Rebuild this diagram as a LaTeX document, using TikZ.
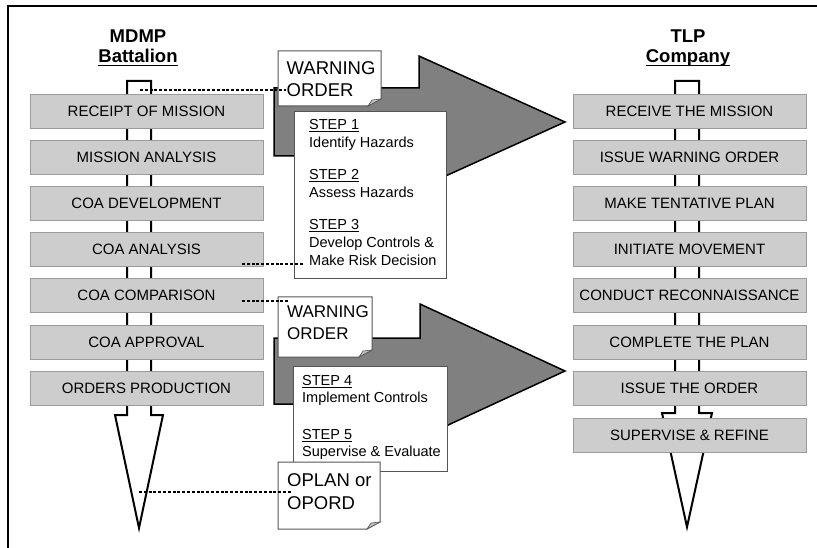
\documentclass[tikz,border=0pt]{standalone}
\usepackage{fontspec}
\setmainfont{Liberation Sans}
\usetikzlibrary{calc}
\definecolor{boxgray}{RGB}{205,205,205}
\definecolor{boxline}{RGB}{155,155,155}
\definecolor{arrowgray}{RGB}{128,128,128}
\definecolor{noteline}{RGB}{85,85,85}
\newcommand{\dogear}[2]{%
  \draw[notebg] (#1) -- (#1 -| #2) -- ([yshift=7pt]#2) -- ([xshift=-13pt]#2) -- (#1 |- #2) -- cycle;
  \draw[fold] ([yshift=7pt]#2) -- ([xshift=-13pt]#2) -- ([xshift=-9pt,yshift=6pt]#2) -- cycle;
}
\begin{document}
\begin{tikzpicture}[x=1pt,y=-1pt,
  procbox/.style={draw=boxline, fill=boxgray, line width=0.8pt, minimum width=233pt, minimum height=34pt, inner sep=0pt, font=\fontsize{15}{18}\selectfont},
  shaft/.style={draw=black, fill=white, line width=2pt, line join=miter},
  bigarrow/.style={draw=black, fill=arrowgray, line width=1.5pt, line join=miter},
  stepbox/.style={draw=noteline, fill=white, line width=1pt},
  notebg/.style={draw=noteline, fill=white, line width=1pt, line join=miter},
  fold/.style={draw=noteline, fill=black!25, line width=0.6pt},
  dashline/.style={draw=black, line width=1.3pt, dash pattern=on 3pt off 1.8pt},
  headtext/.style={font=\bfseries\fontsize{18.5}{22}\selectfont, inner sep=0pt, anchor=base},
  uline/.style={line width=1.2pt},
  notetext/.style={align=left, inner sep=0pt, anchor=north west},
  steptext/.style={align=left, inner sep=0pt, anchor=north west},
]
\useasboundingbox (0,0) rectangle (817,548);
% frame
\draw[line width=2pt] (8,548) -- (8,6) -- (817,6);

% headers
\node[headtext] (hm) at (138,43) {MDMP};
\node[headtext] (hb) at (138,63) {Battalion};
\draw[uline] ([yshift=-2.5pt]hb.base west) -- ([yshift=-2.5pt]hb.base east);
\node[headtext] (ht) at (688,43) {TLP};
\node[headtext] (hc) at (688,63) {Company};
\draw[uline] ([yshift=-2.5pt]hc.base west) -- ([yshift=-2.5pt]hc.base east);

% process arrows (shafts)
\draw[shaft] (127,81) -- (151,81) -- (151,415) -- (163,415) -- (139,528) -- (115,415) -- (127,415) -- cycle;
\draw[shaft] (675,81) -- (699,81) -- (699,413) -- (712,413) -- (687,527) -- (662,413) -- (675,413) -- cycle;

% MDMP boxes
\node[procbox] (L1) at (146.5,111) {RECEIPT OF MISSION};
\node[procbox] (L2) at (146.5,157.2) {MISSION ANALYSIS};
\node[procbox] (L3) at (146.5,203.4) {COA DEVELOPMENT};
\node[procbox] (L4) at (146.5,249.6) {COA ANALYSIS};
\node[procbox] (L5) at (146.5,295.8) {COA COMPARISON};
\node[procbox] (L6) at (146.5,342) {COA APPROVAL};
\node[procbox] (L7) at (146.5,388.2) {ORDERS PRODUCTION};

% TLP boxes
\node[procbox] (R1) at (689.5,111) {RECEIVE THE MISSION};
\node[procbox] (R2) at (689.5,157.2) {ISSUE WARNING ORDER};
\node[procbox] (R3) at (689.5,203.4) {MAKE TENTATIVE PLAN};
\node[procbox] (R4) at (689.5,249.6) {INITIATE MOVEMENT};
\node[procbox] (R5) at (689.5,295.8) {CONDUCT RECONNAISSANCE};
\node[procbox] (R6) at (689.5,342) {COMPLETE THE PLAN};
\node[procbox] (R7) at (689.5,388.2) {ISSUE THE ORDER};
\node[procbox] (R8) at (689.5,435.5) {SUPERVISE \& REFINE};

% big gray arrows
\draw[bigarrow] (274,88) -- (419,88) -- (419,56) -- (565,122) -- (419,188) -- (419,156) -- (274,156) -- cycle;
\draw[bigarrow] (274,338) -- (420,338) -- (420,304) -- (565,371) -- (420,438) -- (420,404) -- (274,404) -- cycle;

% step boxes
\draw[stepbox] (294,112) rectangle (446,279);
\node[steptext, font=\fontsize{14.5}{18}\selectfont] (st1) at (309,119.6)
  {\underline{STEP 1}\\Identify Hazards\\[14pt]\underline{STEP 2}\\Assess Hazards\\[14pt]\underline{STEP 3}\\Develop Controls \&\\Make Risk Decision};
\draw[stepbox] (293,366) rectangle (447,471);
\node[steptext, font=\fontsize{14.5}{17}\selectfont] (st2) at (302,375.6)
  {\underline{STEP 4}\\Implement Controls\\[20pt]\underline{STEP 5}\\Supervise \& Evaluate};

% notes
\coordinate (n1a) at (278,51); \coordinate (n1b) at (381,106);
\dogear{n1a}{n1b}
\node[notetext, font=\fontsize{18.5}{22}\selectfont] (w1) at (286.5,61.8) {WARNING\\ORDER};

\coordinate (n2a) at (278,297); \coordinate (n2b) at (372,357);
\dogear{n2a}{n2b}
\node[notetext, font=\fontsize{17}{22}\selectfont] (w2) at (287,305.8) {WARNING\\ORDER};

\coordinate (n3a) at (278,462); \coordinate (n3b) at (380,529);
\dogear{n3a}{n3b}
\node[notetext, font=\fontsize{18.5}{23}\selectfont] (w3) at (287,473.8) {OPLAN or\\OPORD};

% dashed connectors
\coordinate (d1) at (140,90);
\draw[dashline] (d1) -- ($(d1 -| w1.west)+(-1,0)$);
\coordinate (d2) at (242,264);
\draw[dashline] (d2) -- ($(d2 -| st1.west)+(-6,0)$);
\coordinate (d3) at (242,301);
\draw[dashline] (d3) -- ($(d3 -| w2.west)+(2,0)$);
\coordinate (d4) at (139,492);
\draw[dashline] (d4) -- ($(d4 -| w3.west)+(5,0)$);
\end{tikzpicture}
\end{document}
